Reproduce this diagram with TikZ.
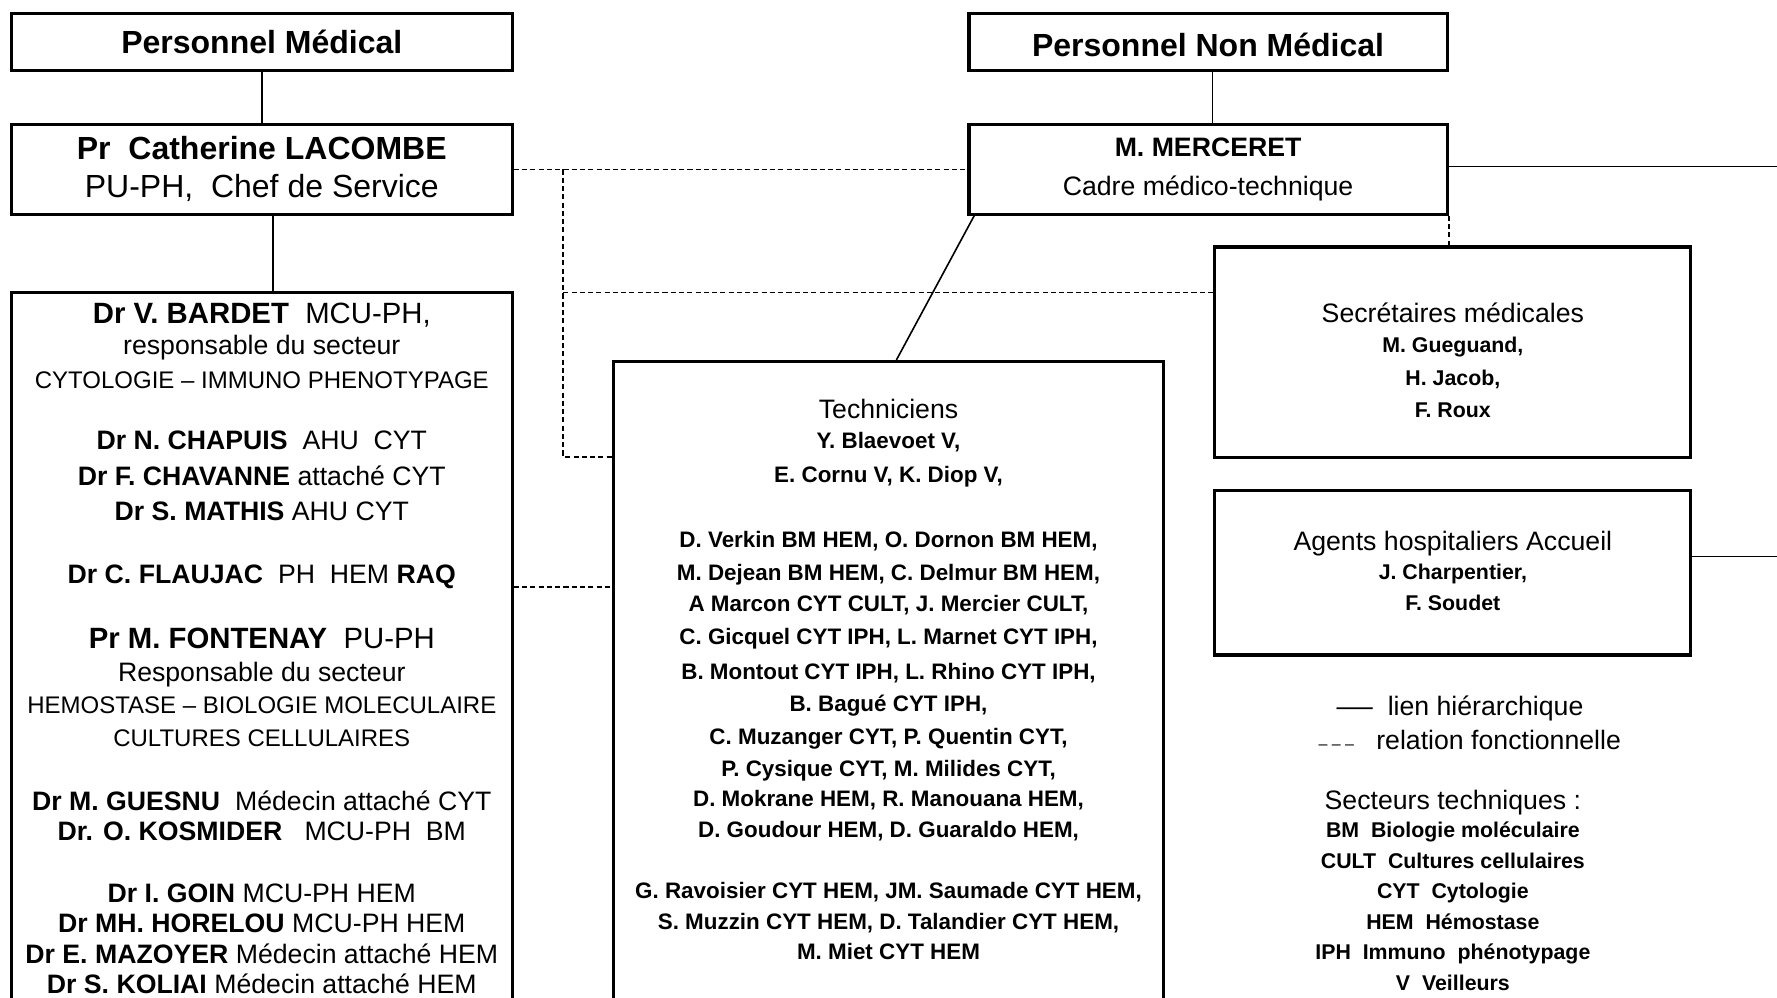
\documentclass[tikz,border=0pt]{standalone}
\usepackage{fontspec}
\setmainfont{Liberation Sans}
\usetikzlibrary{calc}
\newlength\unitpx
\setlength\unitpx{0.425pt}
\newcommand\szXII{\fontsize{12pt}{14pt}\selectfont}
\newcommand\szXI{\fontsize{11pt}{13pt}\selectfont}
\newcommand\szX{\fontsize{10pt}{12pt}\selectfont}
\newcommand\szIX{\fontsize{9pt}{11pt}\selectfont}
\newcommand\szN{\fontsize{8.4pt}{10pt}\selectfont\bfseries}
\newcommand\szS{\fontsize{8pt}{10pt}\selectfont\bfseries}
\tikzset{
  box/.style={draw, line width=1.2pt, inner sep=0pt, fill=none},
  hier/.style={line width=0.6pt},
  func/.style={line width=0.65pt, dash pattern=on 1.9pt off 1.2pt},
  tl/.style={anchor=base, inner sep=0pt},
}
\begin{document}
\begin{tikzpicture}[x=0.425pt, y=-0.425pt]
\useasboundingbox (0,0) rectangle (1568,880);
\fill[white] (0,0) rectangle (1568,880);
\clip (0,0) rectangle (1568,880);

% ---------- boxes ----------
\node[box, minimum width=442\unitpx, minimum height=50\unitpx] (pm) at (231,37) {};
\node[box, minimum width=442\unitpx, minimum height=79\unitpx] (lac) at (231,149.5) {};
\node[box, minimum width=442\unitpx, minimum height=662\unitpx] (bardet) at (231,589) {};
\node[box, minimum width=422\unitpx, minimum height=50\unitpx] (pnm) at (1066,37) {};
\node[box, minimum width=422\unitpx, minimum height=79\unitpx] (merc) at (1066,149.5) {};
\node[box, minimum width=420\unitpx, minimum height=186\unitpx] (sec) at (1282,311) {};
\node[box, minimum width=420\unitpx, minimum height=145\unitpx] (agents) at (1282,505.5) {};
\node[box, minimum width=486\unitpx, minimum height=601\unitpx] (tech) at (784,619.5) {};

% ---------- connector helpers ----------
\coordinate (j1) at (497,149.5);
\coordinate (j2) at (497,258);
\coordinate (j3) at (497,403);
\coordinate (f1) at (0,518);
\coordinate (e1) at (1568,147);
\coordinate (e2) at (1568,491);

% ---------- hierarchical links ----------
\draw[hier] (pm.south) -- (lac.north);
\draw[hier] ($(lac.south)+(10,0)$) -- ($(bardet.north)+(10,0)$);
\draw[hier] ($(pnm.south)+(4,0)$) -- ($(merc.north)+(4,0)$);
\draw[hier] ($(merc.south west)+(6,0)$) -- ($(tech.north)+(7,0)$);
\draw[hier] (merc.east |- e1) -- (e1);
\draw[hier] (agents.east |- e2) -- (e2);

% ---------- functional relations ----------
\draw[func] (lac.east) -- (merc.west);
\draw[func] (j1) -- (j3) -- (j3 -| tech.west);
\draw[func] (j2) -- (j2 -| sec.west);
\draw[func] (bardet.east |- f1) -- (tech.west |- f1);
\draw[func] (merc.south east) -- (merc.south east |- sec.north);

% ---------- header texts ----------
\node[tl, font=\szXII\bfseries] (tpm) at (231,47) {Personnel Médical};
\node[tl, font=\szXII\bfseries] (tpnm) at (1066,50) {Personnel Non Médical};
\node[tl, font=\szXII\bfseries] (tlac1) at (231,141) {Pr\ \ Catherine LACOMBE};
\node[tl, font=\szXII] (tlac2) at (231,174) {PU-PH,\ \ Chef de Service};
\node[tl, font=\szX\bfseries] (tm1) at (1066,138.5) {M. MERCERET};
\node[tl, font=\szX] (tm2) at (1066,172.5) {Cadre médico-technique};

% ---------- medical staff ----------
\node[tl, font=\szXI] (b1) at (231,285) {\textbf{Dr V. BARDET}\ \ MCU-PH,};
\node[tl, font=\szX] (b2) at (231,313) {responsable du secteur};
\node[tl, font=\szIX] (b3) at (231,343) {CYTOLOGIE – IMMUNO PHENOTYPAGE};
\node[tl, font=\szX] (b4) at (231,397) {\textbf{Dr N. CHAPUIS}\ \ AHU\ \ CYT};
\node[tl, font=\szX] (b5) at (231,428) {\textbf{Dr F. CHAVANNE} attaché CYT};
\node[tl, font=\szX] (b6) at (231,459) {\textbf{Dr S. MATHIS} AHU CYT};
\node[tl, font=\szX] (b7) at (231,515) {\textbf{Dr C. FLAUJAC}\ \ PH\ \ HEM \textbf{RAQ}};
\node[tl, font=\szXI] (b8) at (231,572) {\textbf{Pr M. FONTENAY}\ \ PU-PH};
\node[tl, font=\szX] (b9) at (231,601) {Responsable du secteur};
\node[tl, font=\szIX] (b10) at (231,630) {HEMOSTASE – BIOLOGIE MOLECULAIRE};
\node[tl, font=\szIX] (b11) at (231,659) {CULTURES CELLULAIRES};
\node[tl, font=\szX] (b12) at (231,715) {\textbf{Dr M. GUESNU}\ \ Médecin attaché CYT};
\node[tl, font=\szX] (b13) at (231,742) {\textbf{Dr. O. KOSMIDER}\ \ \ MCU-PH\ \ BM};
\node[tl, font=\szX] (b14) at (231,796) {\textbf{Dr I. GOIN} MCU-PH HEM};
\node[tl, font=\szX] (b15) at (231,823) {\textbf{Dr MH. HORELOU} MCU-PH HEM};
\node[tl, font=\szX] (b16) at (231,850) {\textbf{Dr E. MAZOYER} Médecin attaché HEM};
\node[tl, font=\szX] (b17) at (231,877) {\textbf{Dr S. KOLIAI} Médecin attaché HEM};

% ---------- technicians ----------
\node[tl, font=\szX] (c0) at (784,369) {Techniciens};
\node[tl, font=\szN] (c1) at (784,396) {Y. Blaevoet V,};
\node[tl, font=\szN] (c2) at (784,426) {E. Cornu V, K. Diop V,};
\node[tl, font=\szN] (c3) at (784,483) {D. Verkin BM HEM, O. Dornon BM HEM,};
\node[tl, font=\szN] (c4) at (784,512) {M. Dejean BM HEM, C. Delmur BM HEM,};
\node[tl, font=\szN] (c5) at (784,540) {A Marcon CYT CULT, J. Mercier CULT,};
\node[tl, font=\szN] (c6) at (784,569) {C. Gicquel CYT IPH, L. Marnet CYT IPH,};
\node[tl, font=\szN] (c7) at (784,600) {B. Montout CYT IPH, L. Rhino CYT IPH,};
\node[tl, font=\szN] (c8) at (784,628) {B. Bagué CYT IPH,};
\node[tl, font=\szN] (c9) at (784,657) {C. Muzanger CYT, P. Quentin CYT,};
\node[tl, font=\szN] (c10) at (784,685) {P. Cysique CYT, M. Milides CYT,};
\node[tl, font=\szN] (c11) at (784,712) {D. Mokrane HEM, R. Manouana HEM,};
\node[tl, font=\szN] (c12) at (784,739) {D. Goudour HEM, D. Guaraldo HEM,};
\node[tl, font=\szN] (c13) at (784,793) {G. Ravoisier CYT HEM, JM. Saumade CYT HEM,};
\node[tl, font=\szN] (c14) at (784,820) {S. Muzzin CYT HEM, D. Talandier CYT HEM,};
\node[tl, font=\szN] (c15) at (784,847) {M. Miet CYT HEM};

% ---------- secretaries & agents ----------
\node[tl, font=\szX] (s0) at (1282,284.5) {Secrétaires médicales};
\node[tl, font=\szS] (s1) at (1282,311) {M. Gueguand,};
\node[tl, font=\szS] (s2) at (1282,340) {H. Jacob,};
\node[tl, font=\szS] (s3) at (1282,368) {F. Roux};
\node[tl, font=\szX] (a0) at (1282,485.5) {Agents hospitaliers Accueil};
\node[tl, font=\szS] (a1) at (1282,511) {J. Charpentier,};
\node[tl, font=\szS] (a2) at (1282,539) {F. Soudet};

% ---------- legend ----------
\node[tl, font=\szX, anchor=base west] (lg1) at (1179,631.5) {\scalebox{1.36}[1]{—}\ \ lien hiérarchique};
\node[tl, font=\szX, anchor=base west] (lg2) at (1163,661.5) {{\fontsize{6pt}{7pt}\selectfont – – –}\ \ \ relation fonctionnelle};
\node[tl, font=\szX] (k0) at (1282,714.5) {Secteurs techniques :};
\node[tl, font=\szS] (k1) at (1282,739) {BM\ \ Biologie moléculaire};
\node[tl, font=\szS] (k2) at (1282,766) {CULT\ \ Cultures cellulaires};
\node[tl, font=\szS] (k3) at (1282,793) {CYT\ \ Cytologie};
\node[tl, font=\szS] (k4) at (1282,820) {HEM\ \ Hémostase};
\node[tl, font=\szS] (k5) at (1282,847) {IPH\ \ Immuno\ \ phénotypage};
\node[tl, font=\szS] (k6) at (1282,874) {V\ \ Veilleurs};
\end{tikzpicture}
\end{document}
